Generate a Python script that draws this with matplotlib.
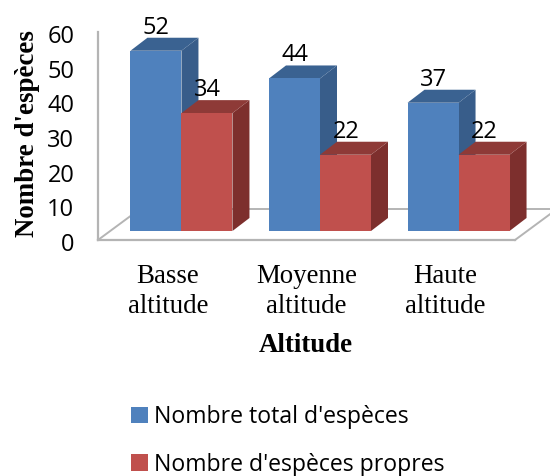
import matplotlib
matplotlib.use("Agg")
import matplotlib.pyplot as plt
from matplotlib.patches import Polygon, Patch
from matplotlib.transforms import ScaledTranslation
import numpy as np

categories = ["Basse\naltitude", "Moyenne\naltitude", "Haute\naltitude"]
total = [52, 44, 37]
propres = [34, 22, 22]
series_names = ["Nombre total d'espèces", "Nombre d'espèces propres"]
yticks = [0, 10, 20, 30, 40, 50, 60]

W, H = 550, 476
fig = plt.figure(figsize=(W / 100, H / 100), dpi=100, facecolor="white")
L, R, T, B = 98, 515, 32, 240
ax = fig.add_axes([L / W, 1 - B / H, (R - L) / W, (B - T) / H])
ax.set_xlim(-0.505, 2.505)
ax.set_ylim(0, 60)

pxx = (2.505 + 0.505) / (R - L)   # data units per pixel, x
pxy = 60 / (B - T)                # data units per pixel, y
grey = "#B4B4B4"
for s in ["top", "right"]:
    ax.spines[s].set_visible(False)
for s in ["left", "bottom"]:
    ax.spines[s].set_color(grey)
    ax.spines[s].set_linewidth(1.6)

# floor of the 3D box
wx, wy = 42 * pxx, 31 * pxy
xl, xr = ax.get_xlim()
ax.plot([xl, xl + wx], [0, wy], color=grey, lw=1.4, clip_on=False, zorder=1)
ax.plot([xl + wx, xr + wx], [wy, wy], color=grey, lw=1.4, clip_on=False, zorder=1)
ax.plot([xr, xr + wx], [0, wy], color=grey, lw=1.4, clip_on=False, zorder=1)

# bars
w = 51 * pxx
sx, sy = 13.5 * pxx, 9 * pxy
dx, dy = 17 * pxx, 13 * pxy


def bar3d(x0, v, front, side, top, z):
    y0 = sy
    y1 = v + sy
    x1 = x0 + w
    ax.add_patch(Polygon([(x1, y0), (x1 + dx, y0 + dy), (x1 + dx, y1 + dy), (x1, y1)],
                         fc=side, ec="none", clip_on=False, zorder=z))
    ax.add_patch(Polygon([(x0, y1), (x0 + dx, y1 + dy), (x1 + dx, y1 + dy), (x1, y1)],
                         fc=top, ec="none", clip_on=False, zorder=z))
    ax.add_patch(Polygon([(x0, y0), (x1, y0), (x1, y1), (x0, y1)],
                         fc=front, ec="none", clip_on=False, zorder=z + 0.1))
    ax.text(x0 + w / 2 + 0.4 * pxx, y1 + 23 * pxy, str(v), ha="center", va="center",
            family="Open Sans", fontsize=17, color="black", zorder=10, clip_on=False)


for i, (a, b) in enumerate(zip(total, propres)):
    bar3d(i + sx - w, a, "#4F81BD", "#385D8A", "#3A6291", 3)
    bar3d(i + sx, b, "#C0504D", "#7D2F2D", "#8E3A37", 4)

ax.set_xticks(range(len(categories)))
ax.set_xticklabels(categories, family="Liberation Serif", fontsize=19.4, linespacing=1.3)
ax.set_yticks(yticks)
ax.set_yticklabels([str(t) for t in yticks], family="Open Sans", fontsize=17)
ax.tick_params(axis="both", length=0)
ax.tick_params(axis="x", pad=17)
ax.tick_params(axis="y", pad=17)
shift = ScaledTranslation(0, -2 / 100, fig.dpi_scale_trans)
for lab in ax.get_yticklabels():
    lab.set_transform(lab.get_transform() + shift)

fig.text(28 / W, 1 - 134 / H, "Nombre d'espèces", rotation=90, ha="center", va="center",
         family="Liberation Serif", fontweight="bold", fontsize=19.4)
fig.text(306 / W, 1 - 345 / H, "Altitude", ha="center", va="center",
         family="Liberation Serif", fontweight="bold", fontsize=19.4)

handles = [Patch(fc="#4F81BD", ec="none"), Patch(fc="#C0504D", ec="none")]
leg = fig.legend(handles, series_names, loc="upper left", bbox_to_anchor=(131 / W, 1 - 405 / H),
                 bbox_transform=fig.transFigure, frameon=False, borderpad=0, borderaxespad=0,
                 prop={"family": "Open Sans", "size": 16.6}, handlelength=0.74, handleheight=0.74,
                 handletextpad=0.26, labelspacing=1.03)

fig.savefig("out.png", dpi=100, facecolor="white")
